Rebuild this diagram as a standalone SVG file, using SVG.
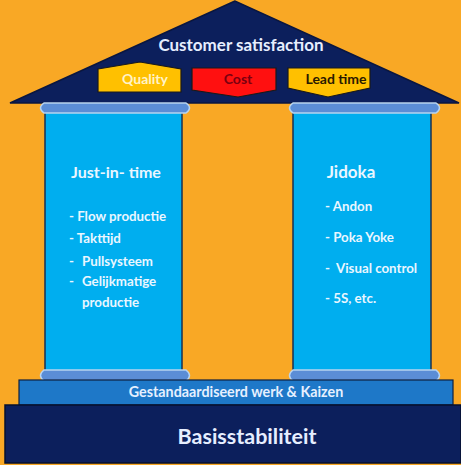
<svg xmlns="http://www.w3.org/2000/svg" width="461" height="465" viewBox="0 0 461 465">
<style>
.t{font-family:"Lato","Open Sans","Liberation Sans",sans-serif;font-weight:bold}
.col{fill:#00AEEF;stroke:#1B3050;stroke-width:1.5}
.cap{fill:#5B8DD6;stroke:#B8D4F0;stroke-width:1.5}
.li{font-size:13.3px;fill:#EAF6FF}
.hd{font-size:16px;fill:#EAF6FF}
.box{font-size:14px}
</style>
<rect width="461" height="465" fill="#F9A825"/>
<g id="roof">
<polygon points="235,1 10,103 459,103" fill="#0C1F5C" stroke="#0A1640" stroke-width="1.5"/>
<text class="t" x="241" y="51" font-size="17" fill="#E6EEFF" text-anchor="middle">Customer satisfaction</text>
</g>
<g id="quality">
<polygon points="98,69 140,62 181,69 181,92 98,92" fill="#FFC000" stroke="#1A1A1A" stroke-width="1.2"/>
<text class="t box" x="145" y="84" fill="#FFF3C8" text-anchor="middle">Quality</text>
</g>
<g id="cost">
<polygon points="192,68 276,68 276,90 238,97 192,90" fill="#FF1010" stroke="#1A1A1A" stroke-width="1.2"/>
<text class="t box" x="238" y="84" fill="#7A0010" text-anchor="middle">Cost</text>
</g>
<g id="leadtime">
<polygon points="288,68 370,68 370,88 328,97 288,88" fill="#FFC000" stroke="#1A1A1A" stroke-width="1.2"/>
<text class="t box" x="336" y="84" fill="#2A1A00" text-anchor="middle">Lead time</text>
</g>
<g id="just-in-time">
<rect class="col" x="45" y="112" width="137" height="259"/>
<path class="cap" d="M44,103 H186 Q193,108 186,113 H44 Q37,108 44,103 Z"/>
<path class="cap" d="M44,370 H186 Q193,375.5 186,381 H44 Q37,375.5 44,370 Z"/>
<text class="t hd" x="116" y="178" text-anchor="middle">Just-in- time</text>
<text class="t li" x="69" y="221">- Flow productie</text>
<text class="t li" x="69" y="243">- Takttijd</text>
<text class="t li" x="69" y="266">-</text>
<text class="t li" x="82" y="266">Pullsysteem</text>
<text class="t li" x="69" y="286">-</text>
<text class="t li" x="82" y="286">Gelijkmatige</text>
<text class="t li" x="82" y="307">productie</text>
</g>
<g id="jidoka">
<rect class="col" x="293" y="112" width="138" height="259"/>
<path class="cap" d="M293,103 H436 Q443,108 436,113 H293 Q286,108 293,103 Z"/>
<path class="cap" d="M293,370 H436 Q443,375.5 436,381 H293 Q286,375.5 293,370 Z"/>
<text class="t" x="351" y="178" font-size="17" fill="#EAF6FF" text-anchor="middle">Jidoka</text>
<text class="t li" x="325" y="211">- Andon</text>
<text class="t li" x="325" y="242">- Poka Yoke</text>
<text class="t li" x="325" y="273" xml:space="preserve">-  Visual control</text>
<text class="t li" x="325" y="303">- 5S, etc.</text>
</g>
<g id="kaizen">
<rect x="19" y="380" width="434" height="25" fill="#1E78C8" stroke="#0E2040" stroke-width="1.2"/>
<text class="t" x="236" y="397" font-size="14.3" fill="#E6F0FF" text-anchor="middle">Gestandaardiseerd werk &amp; Kaizen</text>
</g>
<g id="basis">
<rect x="5" y="405" width="456" height="58" fill="#0C1F5C" stroke="#06102E" stroke-width="1.5"/>
<text class="t" x="247" y="444" font-size="21.5" fill="#E6EEFF" text-anchor="middle">Basisstabiliteit</text>
</g>
<g id="connectors"/>
</svg>
